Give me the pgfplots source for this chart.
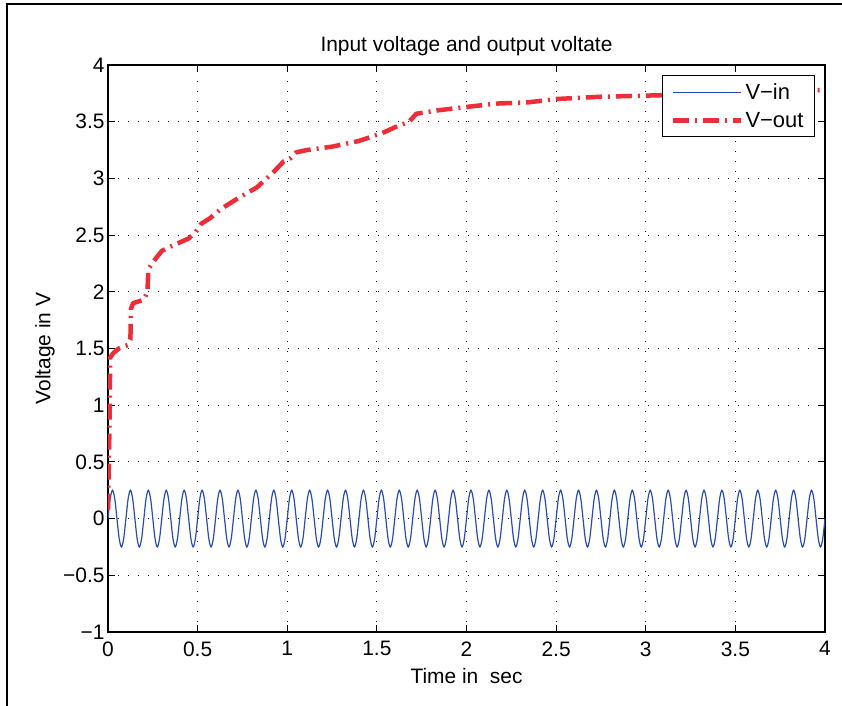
\documentclass[border=0pt]{standalone}
\usepackage{fontspec}
\setmainfont{Liberation Sans}
\usepackage{pgfplots}
\pgfplotsset{compat=1.18}
\definecolor{vin}{rgb}{0.17,0.30,0.70}
\definecolor{vout}{rgb}{0.93,0.18,0.22}
\newcommand{\lbl}{\fontsize{21}{25}\selectfont}
\begin{document}
\begin{tikzpicture}
\useasboundingbox (-108bp,-74bp) rectangle (734bp,632bp);
\fill[white] (-108bp,-74bp) rectangle (734bp,632bp);
\draw[line width=1.3bp] (-101bp,-80bp) -- (-101bp,628bp) -- (740bp,628bp);
\begin{axis}[
  scale only axis, width=717bp, height=567bp,
  xmin=0, xmax=4, ymin=-1, ymax=4,
  xtick={0,0.5,1,1.5,2,2.5,3,3.5,4},
  xticklabels={0,0.5,1,1.5,2,2.5,3,3.5,4},
  ytick={-1,-0.5,0,0.5,1,1.5,2,2.5,3,3.5,4},
  yticklabels={−1,−0.5,0,0.5,1,1.5,2,2.5,3,3.5,4},
  ticklabel style={font=\lbl},
  xticklabel style={yshift=-6bp},
  tick align=inside,
  major tick length=7bp,
  every tick/.style={black, line width=0.9bp},
  axis line style={line width=1.3bp},
  grid=major,
  major grid style={black, line width=0.9bp, dash pattern=on 1.2bp off 8.8bp},
  title={Input voltage and output voltate},
  title style={at={(axis description cs:0.5,1.038)}, anchor=center, yshift=-9bp, font=\lbl},
  xlabel={Time in\ \ sec},
  xlabel style={at={(axis description cs:0.5,-0.078)}, anchor=center, font=\lbl},
  ylabel={Voltage in V},
  ylabel style={at={(axis description cs:-0.088,0.5)}, anchor=center, rotate=0, font=\lbl},
  legend style={at={(axis description cs:0.986,0.982)}, anchor=north east, draw=black, line width=1bp, fill=white, font=\fontsize{22}{26}\selectfont, inner xsep=9bp, inner ysep=6bp, row sep=7bp},
  legend cell align=left,
  legend image code/.code={\draw[#1] (0bp,0bp) -- (68bp,0bp);},
]
\addplot[vin, line width=1.2bp, smooth] coordinates {
(0.0,0)(0.0125,0.177)(0.025,0.25)(0.0375,0.177)(0.05,0)(0.0625,-0.177)(0.075,-0.25)(0.0875,-0.177)
(0.1,0)(0.1125,0.177)(0.125,0.25)(0.1375,0.177)(0.15,0)(0.1625,-0.177)(0.175,-0.25)(0.1875,-0.177)
(0.2,0)(0.2125,0.177)(0.225,0.25)(0.2375,0.177)(0.25,0)(0.2625,-0.177)(0.275,-0.25)(0.2875,-0.177)
(0.3,0)(0.3125,0.177)(0.325,0.25)(0.3375,0.177)(0.35,0)(0.3625,-0.177)(0.375,-0.25)(0.3875,-0.177)
(0.4,0)(0.4125,0.177)(0.425,0.25)(0.4375,0.177)(0.45,0)(0.4625,-0.177)(0.475,-0.25)(0.4875,-0.177)
(0.5,0)(0.5125,0.177)(0.525,0.25)(0.5375,0.177)(0.55,0)(0.5625,-0.177)(0.575,-0.25)(0.5875,-0.177)
(0.6,0)(0.6125,0.177)(0.625,0.25)(0.6375,0.177)(0.65,0)(0.6625,-0.177)(0.675,-0.25)(0.6875,-0.177)
(0.7,0)(0.7125,0.177)(0.725,0.25)(0.7375,0.177)(0.75,0)(0.7625,-0.177)(0.775,-0.25)(0.7875,-0.177)
(0.8,0)(0.8125,0.177)(0.825,0.25)(0.8375,0.177)(0.85,0)(0.8625,-0.177)(0.875,-0.25)(0.8875,-0.177)
(0.9,0)(0.9125,0.177)(0.925,0.25)(0.9375,0.177)(0.95,0)(0.9625,-0.177)(0.975,-0.25)(0.9875,-0.177)
(1.0,0)(1.0125,0.177)(1.025,0.25)(1.0375,0.177)(1.05,0)(1.0625,-0.177)(1.075,-0.25)(1.0875,-0.177)
(1.1,0)(1.1125,0.177)(1.125,0.25)(1.1375,0.177)(1.15,0)(1.1625,-0.177)(1.175,-0.25)(1.1875,-0.177)
(1.2,0)(1.2125,0.177)(1.225,0.25)(1.2375,0.177)(1.25,0)(1.2625,-0.177)(1.275,-0.25)(1.2875,-0.177)
(1.3,0)(1.3125,0.177)(1.325,0.25)(1.3375,0.177)(1.35,0)(1.3625,-0.177)(1.375,-0.25)(1.3875,-0.177)
(1.4,0)(1.4125,0.177)(1.425,0.25)(1.4375,0.177)(1.45,0)(1.4625,-0.177)(1.475,-0.25)(1.4875,-0.177)
(1.5,0)(1.5125,0.177)(1.525,0.25)(1.5375,0.177)(1.55,0)(1.5625,-0.177)(1.575,-0.25)(1.5875,-0.177)
(1.6,0)(1.6125,0.177)(1.625,0.25)(1.6375,0.177)(1.65,0)(1.6625,-0.177)(1.675,-0.25)(1.6875,-0.177)
(1.7,0)(1.7125,0.177)(1.725,0.25)(1.7375,0.177)(1.75,0)(1.7625,-0.177)(1.775,-0.25)(1.7875,-0.177)
(1.8,0)(1.8125,0.177)(1.825,0.25)(1.8375,0.177)(1.85,0)(1.8625,-0.177)(1.875,-0.25)(1.8875,-0.177)
(1.9,0)(1.9125,0.177)(1.925,0.25)(1.9375,0.177)(1.95,0)(1.9625,-0.177)(1.975,-0.25)(1.9875,-0.177)
(2.0,0)(2.0125,0.177)(2.025,0.25)(2.0375,0.177)(2.05,0)(2.0625,-0.177)(2.075,-0.25)(2.0875,-0.177)
(2.1,0)(2.1125,0.177)(2.125,0.25)(2.1375,0.177)(2.15,0)(2.1625,-0.177)(2.175,-0.25)(2.1875,-0.177)
(2.2,0)(2.2125,0.177)(2.225,0.25)(2.2375,0.177)(2.25,0)(2.2625,-0.177)(2.275,-0.25)(2.2875,-0.177)
(2.3,0)(2.3125,0.177)(2.325,0.25)(2.3375,0.177)(2.35,0)(2.3625,-0.177)(2.375,-0.25)(2.3875,-0.177)
(2.4,0)(2.4125,0.177)(2.425,0.25)(2.4375,0.177)(2.45,0)(2.4625,-0.177)(2.475,-0.25)(2.4875,-0.177)
(2.5,0)(2.5125,0.177)(2.525,0.25)(2.5375,0.177)(2.55,0)(2.5625,-0.177)(2.575,-0.25)(2.5875,-0.177)
(2.6,0)(2.6125,0.177)(2.625,0.25)(2.6375,0.177)(2.65,0)(2.6625,-0.177)(2.675,-0.25)(2.6875,-0.177)
(2.7,0)(2.7125,0.177)(2.725,0.25)(2.7375,0.177)(2.75,0)(2.7625,-0.177)(2.775,-0.25)(2.7875,-0.177)
(2.8,0)(2.8125,0.177)(2.825,0.25)(2.8375,0.177)(2.85,0)(2.8625,-0.177)(2.875,-0.25)(2.8875,-0.177)
(2.9,0)(2.9125,0.177)(2.925,0.25)(2.9375,0.177)(2.95,0)(2.9625,-0.177)(2.975,-0.25)(2.9875,-0.177)
(3.0,0)(3.0125,0.177)(3.025,0.25)(3.0375,0.177)(3.05,0)(3.0625,-0.177)(3.075,-0.25)(3.0875,-0.177)
(3.1,0)(3.1125,0.177)(3.125,0.25)(3.1375,0.177)(3.15,0)(3.1625,-0.177)(3.175,-0.25)(3.1875,-0.177)
(3.2,0)(3.2125,0.177)(3.225,0.25)(3.2375,0.177)(3.25,0)(3.2625,-0.177)(3.275,-0.25)(3.2875,-0.177)
(3.3,0)(3.3125,0.177)(3.325,0.25)(3.3375,0.177)(3.35,0)(3.3625,-0.177)(3.375,-0.25)(3.3875,-0.177)
(3.4,0)(3.4125,0.177)(3.425,0.25)(3.4375,0.177)(3.45,0)(3.4625,-0.177)(3.475,-0.25)(3.4875,-0.177)
(3.5,0)(3.5125,0.177)(3.525,0.25)(3.5375,0.177)(3.55,0)(3.5625,-0.177)(3.575,-0.25)(3.5875,-0.177)
(3.6,0)(3.6125,0.177)(3.625,0.25)(3.6375,0.177)(3.65,0)(3.6625,-0.177)(3.675,-0.25)(3.6875,-0.177)
(3.7,0)(3.7125,0.177)(3.725,0.25)(3.7375,0.177)(3.75,0)(3.7625,-0.177)(3.775,-0.25)(3.7875,-0.177)
(3.8,0)(3.8125,0.177)(3.825,0.25)(3.8375,0.177)(3.85,0)(3.8625,-0.177)(3.875,-0.25)(3.8875,-0.177)
(3.9,0)(3.9125,0.177)(3.925,0.25)(3.9375,0.177)(3.95,0)(3.9625,-0.177)(3.975,-0.25)(3.9875,-0.177)
(4.0,0)
};
\addlegendentry{V−in}
\addplot[vout, line width=4.5bp, line join=round, dash pattern=on 16bp off 6bp on 2bp off 6bp] coordinates {
(0,0.08)(0.005,0.5)(0.01,1.0)(0.012,1.42)(0.03,1.46)(0.06,1.5)(0.11,1.53)(0.125,1.58)
(0.128,1.85)(0.14,1.9)(0.2,1.93)(0.22,2.0)(0.225,2.2)(0.26,2.28)(0.3,2.36)(0.35,2.40)
(0.45,2.47)(0.49,2.53)(0.52,2.6)(0.57,2.65)(0.63,2.73)(0.72,2.82)(0.83,2.92)(0.92,3.05)
(0.98,3.15)(1.02,3.18)(1.05,3.23)(1.11,3.25)(1.25,3.28)(1.4,3.33)(1.53,3.4)(1.6,3.45)
(1.68,3.5)(1.72,3.57)(1.84,3.6)(2.0,3.63)(2.17,3.66)(2.34,3.67)(2.5,3.70)(2.75,3.72)
(3.0,3.73)(3.25,3.74)(3.5,3.75)(3.75,3.77)(4.0,3.78)
};
\addlegendentry{V−out}
\end{axis}
\end{tikzpicture}
\end{document}
